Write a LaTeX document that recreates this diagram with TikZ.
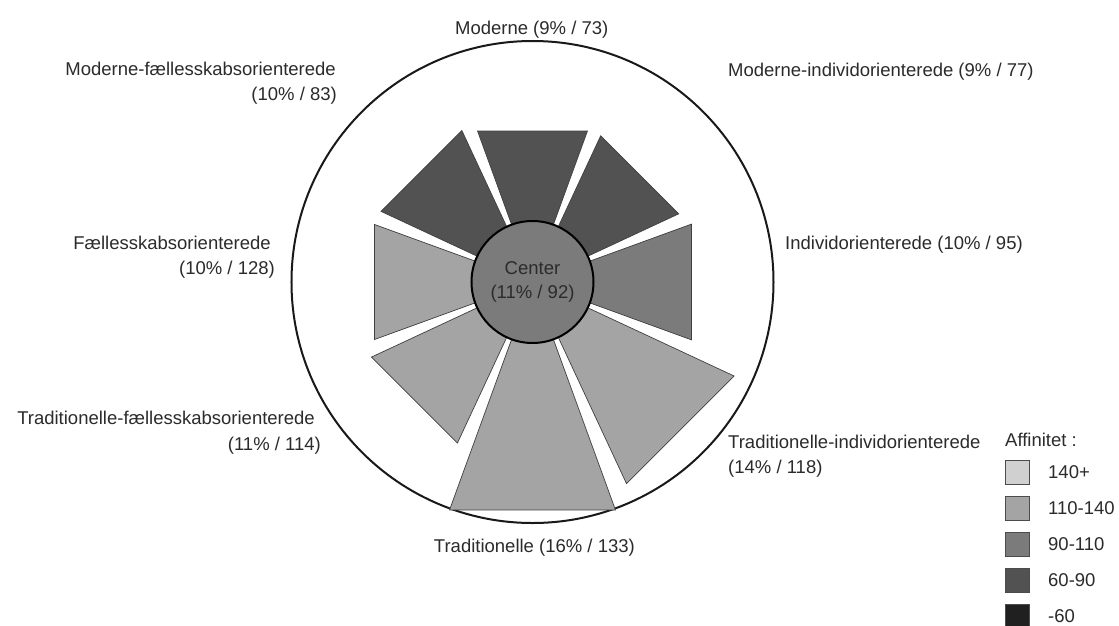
\documentclass[tikz,border=0pt]{standalone}
\usepackage{fontspec}
\setmainfont{Liberation Sans}
\definecolor{aff140}{HTML}{D0D0D0}
\definecolor{aff110}{HTML}{A4A4A4}
\definecolor{aff90}{HTML}{7B7B7B}
\definecolor{aff60}{HTML}{525252}
\definecolor{aff0}{HTML}{202020}
\definecolor{ink}{HTML}{2B2B2B}
\begin{document}
\begin{tikzpicture}[x=1pt,y=1pt,
  lbl/.style={font=\fontsize{18.5}{24}\selectfont, text=ink, inner sep=0pt},
  wedge/.style={draw=black!75, line width=0.7pt},
  keybox/.style={draw=black!70, line width=0.8pt, minimum size=24pt, inner sep=0pt},
]
\useasboundingbox (-532.5,-343) rectangle (586.5,282);
\fill[white] (-532.5,-343) rectangle (586.5,282);

% outer ring
\draw[line width=2pt, draw=black!90, fill=white] (0,0) circle[radius=241];

% segments: direction / distance of outer edge / affinity colour
\foreach \a/\d/\c in {90/151/aff60, 45/151.6/aff60, 0/159/aff90, -45/209/aff110,
                      -90/228/aff110, -135/167/aff110, 180/158/aff110, 135/157/aff60}
  \draw[wedge, fill=\c] (0,0) -- (\a-20:{\d/cos(20)}) -- (\a+20:{\d/cos(20)}) -- cycle;

% centre
\node[lbl, circle, draw=black, line width=2pt, fill=aff90, minimum size=122pt,
      align=center] (ctr) at (0,0) {Center\\(11\% / 92)};

% segment labels
\node[lbl, anchor=base] (moderne) at (-0.8,248) {Moderne (9\% / 73)};
\node[lbl, anchor=base east] (mf1) at (-196.5,207) {Moderne-fællesskabsorienterede};
\node[lbl, anchor=base east] (mf2) at (-195.5,182) {(10\% / 83)};
\node[lbl, anchor=base west] (mi) at (195.5,205.5) {Moderne-individorienterede (9\% / 77)};
\node[lbl, anchor=base west] (ind) at (252.5,33) {Individorienterede (10\% / 95)};
\node[lbl, anchor=base east] (f1) at (-261.5,33) {Fællesskabsorienterede};
\node[lbl, anchor=base east] (f2) at (-257.5,8) {(10\% / 128)};
\node[lbl, anchor=base east] (tf1) at (-217.5,-142) {Traditionelle-fællesskabsorienterede};
\node[lbl, anchor=base east] (tf2) at (-211.5,-168) {(11\% / 114)};
\node[lbl, anchor=base west] (ti1) at (195.5,-166) {Traditionelle-individorienterede};
\node[lbl, anchor=base west] (ti2) at (195.5,-191) {(14\% / 118)};
\node[lbl, anchor=base] (trad) at (1.9,-270) {Traditionelle (16\% / 133)};

% legend
\node[lbl, anchor=base west] (afftitle) at (472.5,-164) {Affinitet :};
\foreach \c/\t [count=\i] in {aff140/140+, aff110/110-140, aff90/90-110, aff60/60-90, aff0/-60} {
  \node[keybox, fill=\c] (key\i) at (485,{-190-36*(\i-1)}) {};
  \node[lbl, anchor=west] (keylbl\i) at (515.5,{-190-36*(\i-1)}) {\t};
}
\end{tikzpicture}
\end{document}
